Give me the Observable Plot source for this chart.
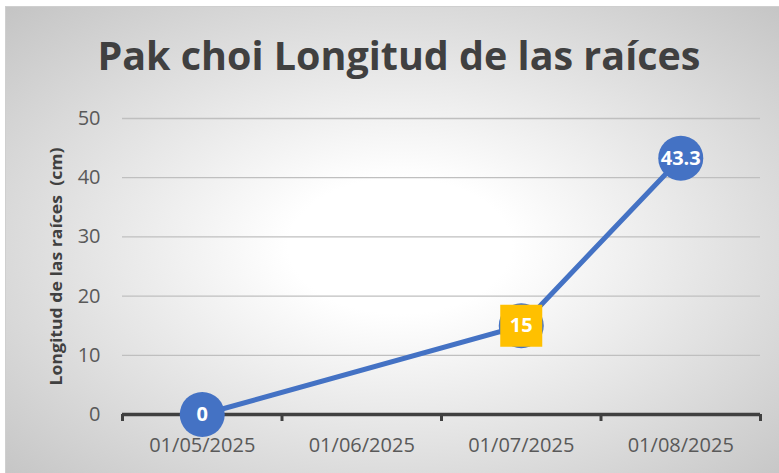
<!DOCTYPE html>
<html>
<head>
<meta charset="utf-8">
<script src="https://cdn.jsdelivr.net/npm/d3@7"></script>
<script src="https://cdn.jsdelivr.net/npm/@observablehq/plot@0.6"></script>
<style>
  html, body { margin: 0; padding: 0; background: #ffffff; }
  #wrap { position: relative; width: 779px; height: 473px; overflow: hidden; }
  #panel {
    position: absolute; left: 5px; top: 6px; width: 790px; height: 480px;
    border: 1px solid #cfcfcf; box-sizing: border-box;
    background: radial-gradient(ellipse at 50% 50%, #ffffff 20%, #c4c4c4 100%);
  }
  #title {
    position: absolute; left: 0; top: 35px; width: 797px; text-align: center;
    font-family: "Open Sans", sans-serif; font-weight: 700; font-size: 39px;
    line-height: 39px; color: #404040; white-space: nowrap;
  }
  #title span { display: inline-block; transform-origin: center; }
  #chart { position: absolute; left: 0; top: 0; }
</style>
</head>
<body>
<div id="wrap">
  <div id="panel"></div>
  <div id="title"><span>Pak choi Longitud de las raíces</span></div>
  <div id="chart"></div>
</div>
<script>
const categories = ["01/05/2025", "01/06/2025", "01/07/2025", "01/08/2025"];
const values = [0, null, 15, 43.3];
const yTicks = [0, 10, 20, 30, 40, 50];
const highlightCategory = "01/07/2025";
const yLabel = "Longitud de las raíces  (cm)";

const data = categories
  .map((c, i) => ({i, c, v: values[i]}))
  .filter(d => d.v != null);
const centers = categories.map((c, i) => i);
const boundaries = [...centers.map(i => i - 0.5), categories.length - 0.5];
const font = "Open Sans, sans-serif";

const plot = Plot.plot({
  width: 779,
  height: 473,
  marginTop: 118,
  marginBottom: 59,
  marginLeft: 122,
  marginRight: 19,
  style: {background: "transparent", fontFamily: font},
  x: {type: "linear", domain: [-0.5, categories.length - 0.5], axis: null},
  y: {domain: [0, 50], axis: null},
  marks: [
    Plot.gridY(yTicks.filter(t => t > 0), {stroke: "#bfbfbf", strokeOpacity: 1, strokeWidth: 1.3}),
    Plot.axisY(yTicks, {tickSize: 0, tickPadding: 22, fontSize: 20, fill: "#595959", label: null}),
    Plot.axisX(boundaries, {tickSize: 7, tickFormat: () => "", stroke: "#404040", strokeWidth: 3, strokeOpacity: 1, label: null}),
    Plot.axisX(centers, {tickSize: 0, tickPadding: 23, tickFormat: i => categories[i], fontSize: 20, fill: "#595959", label: null}),
    Plot.ruleY([0], {stroke: "#404040", strokeWidth: 3.5}),
    Plot.text([yLabel], {frameAnchor: "left", textAnchor: "middle", dx: -66, rotate: -90, fontWeight: "bold", fontSize: 16, fill: "#404040", className: "ylab"}),
    Plot.line(data, {x: "i", y: "v", stroke: "#4472C4", strokeWidth: 5, strokeLinejoin: "round"}),
    Plot.dot(data, {x: "i", y: "v", r: 22.5, fill: "#4472C4"}),
    Plot.dot(data.filter(d => d.c === highlightCategory), {x: "i", y: "v", r: 23.7, symbol: "square", fill: "#FFC000"}),
    Plot.text(data, {x: "i", y: "v", text: d => String(d.v), fill: "white", fontWeight: "bold", fontSize: 20})
  ]
});
document.getElementById("chart").appendChild(plot);

// fit the rotated axis title to the reference length
const yl = plot.querySelector(".ylab text");
if (yl) {
  yl.style.fontSize = "16px";
  yl.style.fontWeight = "700";
  yl.setAttribute("textLength", 238);
  yl.setAttribute("lengthAdjust", "spacingAndGlyphs");
}

const span = document.querySelector("#title span");
const w = span.getBoundingClientRect().width;
span.style.transform = `scaleX(${603 / w})`;
</script>
</body>
</html>
